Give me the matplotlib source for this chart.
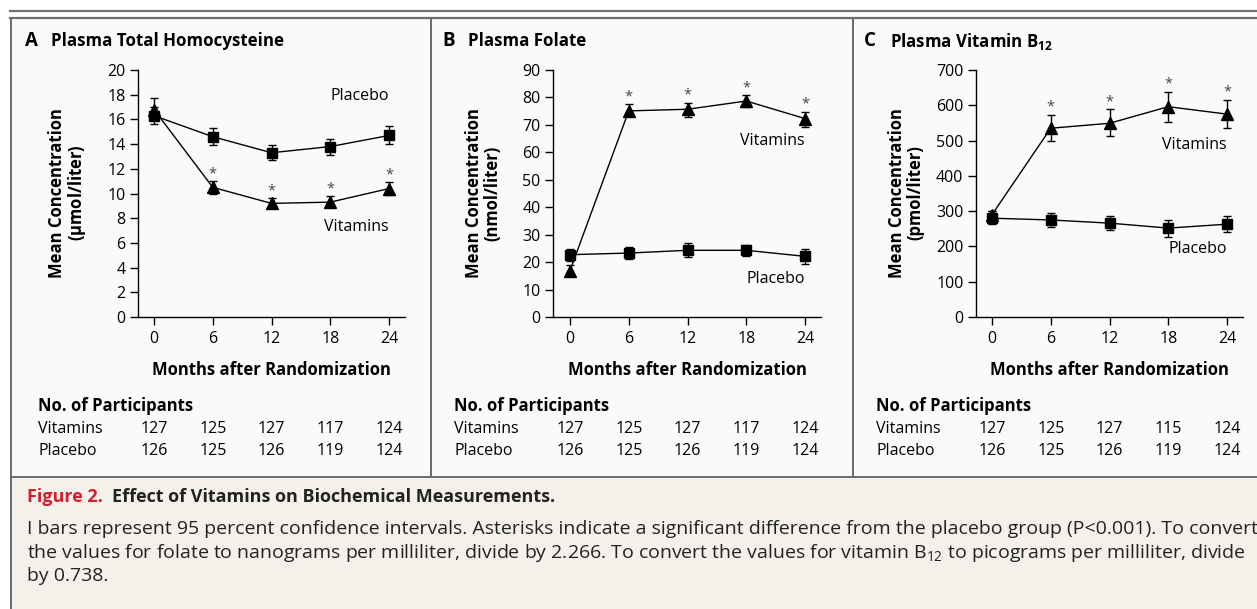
import matplotlib
matplotlib.use('Agg')
import matplotlib.pyplot as plt
from matplotlib.patches import Rectangle
from matplotlib.lines import Line2D

plt.rcParams['font.family'] = ['Open Sans', 'DejaVu Sans']
plt.rcParams['mathtext.default'] = 'regular'

W, H = 1257, 609

# ---- data ----
months = [0, 6, 12, 18, 24]

hcy_vit = [16.8, 10.5, 9.2, 9.3, 10.4]
hcy_vit_lo = [16.0, 10.0, 8.8, 8.9, 9.9]
hcy_vit_hi = [17.7, 11.0, 9.6, 9.8, 10.9]
hcy_pla = [16.3, 14.6, 13.3, 13.8, 14.7]
hcy_pla_lo = [15.6, 13.9, 12.7, 13.1, 14.0]
hcy_pla_hi = [17.0, 15.3, 13.9, 14.4, 15.5]

fol_vit = [16.9, 75.1, 75.7, 78.7, 72.3]
fol_vit_lo = [14.8, 73.8, 73.0, 76.4, 69.4]
fol_vit_hi = [19.0, 77.5, 78.1, 80.8, 74.8]
fol_pla = [22.7, 23.3, 24.3, 24.3, 22.1]
fol_pla_lo = [20.3, 21.2, 21.7, 22.1, 19.4]
fol_pla_hi = [24.7, 25.4, 26.8, 26.2, 24.9]

b12_vit = [290, 535, 549, 596, 575]
b12_vit_lo = [265, 499, 513, 554, 536]
b12_vit_hi = [301, 573, 589, 638, 616]
b12_pla = [280, 275, 266, 252, 263]
b12_pla_lo = [264, 254, 247, 228, 241]
b12_pla_hi = [301, 296, 285, 275, 287]

n_vit = [[127, 125, 127, 117, 124], [127, 125, 127, 117, 124], [127, 125, 127, 115, 124]]
n_pla = [[126, 125, 126, 119, 124], [126, 125, 126, 119, 124], [126, 125, 126, 119, 124]]

letters = ['A', 'B', 'C']
titles = ['Plasma Total Homocysteine', 'Plasma Folate', r'Plasma Vitamin B$_{12}$']
units = [r'($\mu$mol/liter)', '(nmol/liter)', '(pmol/liter)']
ymax = [20, 90, 700]
ystep = [2, 10, 100]
star_vit = [False, True, True, True, True]

# series label heights in data units
lab_pla_y = [17.9, 14.0, 192]
lab_vit_y = [7.3, 64.0, 487]

edge = '#6e6e6e'
panel_bg = '#fafafa'
cap_bg = '#f4f1ea'
red = '#d0202e'


def fx(x):
    return x / W


def fy(y):
    return 1 - y / H


fig = plt.figure(figsize=(W / 100, H / 100), dpi=100)
fig.patch.set_facecolor('white')

# backgrounds and frames
fig.patches.append(Rectangle((fx(11), fy(477)), fx(1257 - 11), 459 / H,
                             transform=fig.transFigure, facecolor=panel_bg, edgecolor='none', zorder=-2))
fig.patches.append(Rectangle((fx(11), 0), fx(1257 - 11), 131 / H,
                             transform=fig.transFigure, facecolor=cap_bg, edgecolor='none', zorder=-2))
for (x0, y0, x1, y1, lw) in [(10, 10.5, 1257, 10.5, 2.2), (10, 18, 1257, 18, 2.2),
                              (11, 18, 11, 609, 2.0), (431, 18, 431, 477, 2.0),
                              (853, 18, 853, 477, 2.0), (11, 477, 1257, 477, 2.0)]:
    fig.lines.append(Line2D([fx(x0), fx(x1)], [fy(y0), fy(y1)], transform=fig.transFigure,
                            color=edge, lw=lw * 0.72, zorder=1))

# axes geometry in pixels: y-axis x, x=0 pixel, right end
yaxis_px = [138, 553, 976]
x0_px = [154, 570, 992]
right_px = [405, 821, 1243]
top_px, bot_px = 70, 317
ppm = (389 - 154) / 24.0

series = [
    (hcy_vit, hcy_vit_lo, hcy_vit_hi, hcy_pla, hcy_pla_lo, hcy_pla_hi),
    (fol_vit, fol_vit_lo, fol_vit_hi, fol_pla, fol_pla_lo, fol_pla_hi),
    (b12_vit, b12_vit_lo, b12_vit_hi, b12_pla, b12_pla_lo, b12_pla_hi),
]

for i in range(3):
    ax = fig.add_axes([fx(yaxis_px[i]), fy(bot_px), fx(right_px[i] - yaxis_px[i]),
                       (bot_px - top_px) / H])
    ax.patch.set_alpha(0)
    ax.set_xlim((yaxis_px[i] - x0_px[i]) / ppm, (right_px[i] - x0_px[i]) / ppm)
    ax.set_ylim(0, ymax[i])
    for s in ['top', 'right']:
        ax.spines[s].set_visible(False)
    for s in ['left', 'bottom']:
        ax.spines[s].set_linewidth(1.0)
        ax.spines[s].set_color('black')
    ax.set_xticks(months)
    ax.set_yticks(range(0, ymax[i] + 1, ystep[i]))
    ax.tick_params(axis='both', direction='out', length=6, width=1.0, labelsize=11.5,
                   colors='black', pad=3)
    ax.tick_params(axis='x', pad=4)

    v, vlo, vhi, p, plo, phi = series[i]
    ax.errorbar(months, p, yerr=[[a - b for a, b in zip(p, plo)], [b - a for a, b in zip(p, phi)]],
                color='black', marker='s', markersize=7.5, lw=1.0, capsize=3, elinewidth=1.0,
                capthick=1.0, clip_on=False, zorder=3)
    ax.errorbar(months, v, yerr=[[a - b for a, b in zip(v, vlo)], [b - a for a, b in zip(v, vhi)]],
                color='black', marker='^', markersize=8, lw=1.0, capsize=3, elinewidth=1.0,
                capthick=1.0, clip_on=False, zorder=3)

    # asterisks above the vitamin group's upper CI
    for m, hi, st in zip(months, vhi, star_vit):
        if st:
            ax.annotate('*', (m, hi), xytext=(0, 0), textcoords='offset points',
                        ha='center', va='bottom', fontsize=10.5, color='#444444')

    ax.text(24.0, lab_pla_y[i], 'Placebo', ha='right', va='center', fontsize=11.5)
    ax.text(24.0, lab_vit_y[i], 'Vitamins', ha='right', va='center', fontsize=11.5)

    # panel letter and title
    lx = [25, 442, 864][i]
    fig.text(fx(lx), fy(41), letters[i], fontsize=13.5, fontweight='bold', va='center', ha='left')
    fig.text(fx(lx + 26), fy(41), titles[i], fontsize=12.2, fontweight='bold', va='center', ha='left')

    # y label
    cx = [68, 483, 906][i]
    fig.text(fx(cx), fy(193), 'Mean Concentration\n' + units[i], rotation=90, ha='center',
             va='center', multialignment='center', fontsize=12, fontweight='bold',
             linespacing=1.05)

    # x label
    fig.text(fx(x0_px[i] + 12 * ppm), fy(370), 'Months after Randomization', ha='center',
             va='center', fontsize=12, fontweight='bold')

    # participants table
    tx = [38, 454, 876][i]
    fig.text(fx(tx), fy(406), 'No. of Participants', ha='left', va='center', fontsize=12,
             fontweight='bold')
    fig.text(fx(tx), fy(429), 'Vitamins', ha='left', va='center', fontsize=11.5)
    fig.text(fx(tx), fy(451), 'Placebo', ha='left', va='center', fontsize=11.5)
    for m, a, b in zip(months, n_vit[i], n_pla[i]):
        xp = x0_px[i] + m * ppm
        fig.text(fx(xp), fy(429), str(a), ha='center', va='center', fontsize=11.5)
        fig.text(fx(xp), fy(451), str(b), ha='center', va='center', fontsize=11.5)

# caption
fig.text(fx(27), fy(497), 'Figure 2.', color=red, fontsize=13, fontweight='bold',
         ha='left', va='center')
fig.text(fx(112), fy(497), 'Effect of Vitamins on Biochemical Measurements.', color='#222222',
         fontsize=13, fontweight='bold', ha='left', va='center')
cap_lines = [
    'I bars represent 95 percent confidence intervals. Asterisks indicate a significant difference '
    'from the placebo group (P<0.001). To convert',
    r'the values for folate to nanograms per milliliter, divide by 2.266. To convert the values for '
    r'vitamin B$_{12}$ to picograms per milliliter, divide',
    'by 0.738.',
]
for k, line in enumerate(cap_lines):
    fig.text(fx(27), fy(529 + 23.5 * k), line, color='#222222', fontsize=14, ha='left',
             va='center')

fig.savefig('out.png', dpi=100)
